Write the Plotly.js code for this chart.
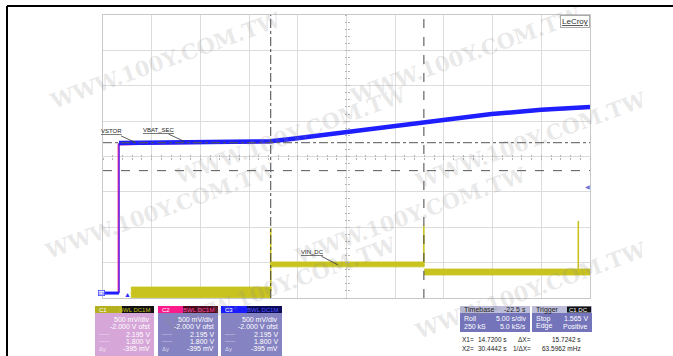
<!DOCTYPE html>
<html><head><meta charset="utf-8">
<script src="https://cdn.plot.ly/plotly-3.0.1.min.js"></script>
<style>html,body{margin:0;padding:0;background:#fff;} #chart{width:673px;height:356px;}</style>
</head><body><div id="chart"></div>
<script>
// ---------- data (seconds, volts) ----------
const xRange = [-2.5, 47.5];
const yRange = [0, 4];
const cursorX = [14.72, 30.4442];
const cursorY = [2.195, 1.800];
const triggerT = 0;
const triggerLevel = 1.565;

// C3 (blue) - VSTOR / VBAT_SEC
const c3LowT = [-2.5, -0.85];
const c3LowV = [0.07, 0.07];
const c3EdgeT = [-0.85, -0.85];
const c3EdgeV = [0.07, 2.19];
const c3T = [-0.85, 3, 8, 14.72, 17, 21, 25, 30.44, 34, 37.4, 42.5, 47.5];
const c3V = [2.19, 2.20, 2.205, 2.215, 2.25, 2.32, 2.39, 2.49, 2.55, 2.60, 2.66, 2.70];
// C2 (pink) underneath
const c2T = [-0.9, -0.9, 3, 8, 14.72, 17, 21, 25, 30.44, 34, 37.4, 42.5, 47.5];
const c2V = [0.07, 2.17, 2.185, 2.19, 2.20, 2.24, 2.31, 2.38, 2.48, 2.54, 2.59, 2.65, 2.69];
// C1 (yellow) - VIN_DC, noisy band envelopes per segment
const c1SegStart = [0.4, 14.8, 30.5];
const c1SegEnd = [14.72, 30.44, 47.5];
const c1Hi = [0.155, 0.51, 0.41];
const c1Lo = [0.005, 0.44, 0.325];
const c1SpikeT = [14.72, 30.44, 46.3];
const c1SpikeTop = [0.99, 1.02, 1.09];
const c1SpikeBase = [0.10, 0.44, 0.33];

const traceLabels = ['VSTOR', 'VBAT_SEC', 'VIN_DC'];
const labelT = [0.8, 5.9, 21.6];
const labelV = [2.20, 2.21, 0.47];

const chTitles = ['C1', 'C2', 'C3'];
const chRows = ['500 mV/div', '-2.000 V ofst', '2.195 V', '1.800 V', '-395 mV'];
const chLeft = ['', '', '\u2012\u2012\u2012', '\u2012\u2012\u2012', '\u0394y'];
const tbHeader = ['Timebase', '-22.5 s'];
const tbRows = [['Roll', '5.00 s/div'], ['250 kS', '5.0 kS/s']];
const trHeader = ['Trigger', 'C1 DC'];
const trRows = [['Stop', '1.565 V'], ['Edge', 'Positive']];
const cursorText = [['X1=', '14.7200 s', '\u0394X=', '15.7242 s'], ['X2=', '30.4442 s', '1/\u0394X=', '63.5962 mHz']];
const watermark = 'WWW.100Y.COM.TW';

// ---------- layout helpers (pixel -> paper) ----------
const PX = x => (x - 103) / 487;
const PY = y => (298 - y) / 283;
const YEL = '#c8c31e', BLUE = '#1e1eff', PINK = '#ff2a8a';
const FONT = 'Liberation Sans, Arial, sans-serif';

const traces = [];
for (let i = 0; i < c1SegStart.length; i++) {
  traces.push({x: [c1SegStart[i], c1SegEnd[i], c1SegEnd[i], c1SegStart[i], c1SegStart[i]],
    y: [c1Lo[i], c1Lo[i], c1Hi[i], c1Hi[i], c1Lo[i]], mode: 'lines', fill: 'toself',
    fillcolor: YEL, line: {color: YEL, width: 0.8}, hoverinfo: 'skip'});
}
for (let i = 0; i < c1SpikeT.length; i++) {
  traces.push({x: [c1SpikeT[i], c1SpikeT[i]], y: [c1SpikeBase[i], c1SpikeTop[i]], mode: 'lines',
    line: {color: YEL, width: 1.6}, hoverinfo: 'skip'});
}
traces.push({x: c2T, y: c2V, mode: 'lines', line: {color: PINK, width: 2}, hoverinfo: 'skip'});
traces.push({x: c3LowT, y: c3LowV, mode: 'lines', line: {color: BLUE, width: 3}, hoverinfo: 'skip'});
traces.push({x: c3EdgeT, y: c3EdgeV, mode: 'lines', line: {color: '#3030ff', width: 1.2}, hoverinfo: 'skip'});
traces.push({x: c3T, y: c3V, mode: 'lines', line: {color: BLUE, width: 4.5}, hoverinfo: 'skip'});
traces.push({x: [null], y: [null], xaxis: 'x2', yaxis: 'y2', hoverinfo: 'skip'});
traces.push({x: [null], y: [null], xaxis: 'x3', yaxis: 'y3', hoverinfo: 'skip'});

const shapes = [];
const annotations = [];
const rect = (x0, y0, x1, y1, fill) => shapes.push({type: 'rect', xref: 'paper', yref: 'paper',
  x0: PX(x0), x1: PX(x1), y0: PY(y0), y1: PY(y1), fillcolor: fill, line: {width: 0}, layer: 'above'});
const txt = (x, y, t, anchor, color, size) => annotations.push({xref: 'paper', yref: 'paper',
  x: PX(x), y: PY(y), text: t, showarrow: false, xanchor: anchor, yanchor: 'middle',
  font: {family: FONT, size: size || 7, color: color || '#fff'}});

// watermarks (kept inside the picture)
const wmPos = [[165, 60], [465, 55], [290, 135], [530, 140], [160, 210], [410, 215], [280, 285], [530, 290]];
wmPos.forEach(p => annotations.push({xref: 'paper', yref: 'paper', x: PX(p[0]), y: PY(p[1]),
  xanchor: 'center', yanchor: 'middle', text: watermark,
  showarrow: false, textangle: -20, font: {family: 'DejaVu Serif, serif', size: 21, color: 'rgba(140,140,140,0.2)', weight: 'bold'}}));

// frame
shapes.push({type: 'line', xref: 'paper', yref: 'paper', x0: PX(7), x1: PX(673), y0: PY(6), y1: PY(6), line: {color: '#000', width: 2}});
shapes.push({type: 'line', xref: 'paper', yref: 'paper', x0: PX(7), x1: PX(7), y0: PY(6), y1: PY(360), line: {color: '#000', width: 2}});

// cursors
shapes.push({type: 'line', xref: 'x', yref: 'paper', x0: cursorX[0], x1: cursorX[0], y0: 0, y1: 1, line: {color: '#444', width: 1, dash: 'dashdot'}});
shapes.push({type: 'line', xref: 'x', yref: 'paper', x0: cursorX[1], x1: cursorX[1], y0: 0, y1: 1, line: {color: '#444', width: 1, dash: 'dash'}});
shapes.push({type: 'line', xref: 'paper', yref: 'y', x0: 0, x1: 1, y0: cursorY[0], y1: cursorY[0], line: {color: '#555', width: 1, dash: 'dashdot'}});
shapes.push({type: 'line', xref: 'paper', yref: 'y', x0: 0, x1: 1, y0: cursorY[1], y1: cursorY[1], line: {color: '#555', width: 1, dash: 'dash'}});

// trace labels
const axs = [-24, -26, -25], ays = [-11, -12, -13];
for (let i = 0; i < traceLabels.length; i++) {
  annotations.push({x: labelT[i], y: labelV[i], xref: 'x', yref: 'y', text: '<u>' + traceLabels[i] + '</u>',
    showarrow: true, arrowhead: 0, arrowwidth: 0.8, arrowcolor: '#333', ax: axs[i], ay: ays[i],
    font: {family: FONT, size: 6, color: '#222'}});
}

// LeCroy
annotations.push({xref: 'paper', yref: 'paper', x: 1, y: 1, xanchor: 'right', yanchor: 'top', text: '<u>LeCroy</u>',
  showarrow: false, font: {family: FONT, size: 8, color: '#333'}, bordercolor: '#aaa', borderwidth: 1, borderpad: 1, bgcolor: '#fff'});

// trigger markers
annotations.push({x: triggerT, xref: 'x', yref: 'paper', y: PY(301), text: '\u25B2', showarrow: false,
  font: {size: 7, color: '#2a2aff'}});
annotations.push({x: PX(592), xref: 'paper', yref: 'y', y: triggerLevel, text: '\u25C0', showarrow: false,
  font: {size: 6, color: '#7070d8'}});
annotations.push({x: PX(98), xref: 'paper', yref: 'y', y: c3LowV[0], text: 'C3', showarrow: false,
  font: {family: FONT, size: 4, color: '#1e1eff'}, bordercolor: '#1e1eff', borderwidth: 0.6, borderpad: 0, bgcolor: '#e6e6ff'});

// channel boxes
const boxX = [[95, 122, 154], [158, 183, 218], [221, 247, 282]];
const hdrL = ['#b5b020', '#ff1a8c', '#1a1aff'];
const hdrR = ['#111111', '#4a0a1e', '#0c0c5a'];
const hdrT = [YEL, '#ff4aa0', '#5050ff'];
const body = ['#d6a6d8', '#8683c2', '#8683c2'];
const rowY = [319.5, 326.8, 334, 341.3, 348.6];
for (let c = 0; c < 3; c++) {
  const [a, m, b] = boxX[c];
  rect(a, 306, m, 313, hdrL[c]);
  rect(m, 306, b, 313, hdrR[c]);
  rect(a, 313, b, 360, body[c]);
  txt(a + 2, 309.5, chTitles[c], 'left', '#fff', 6);
  txt(b - 2, 309.5, 'BWL DC1M', 'right', hdrT[c], 6);
  for (let r = 0; r < chRows.length; r++) {
    txt(b - 2, rowY[r], chRows[r], 'right', '#fff', 7);
    if (chLeft[r]) txt(a + 2, rowY[r], chLeft[r], 'left', 'rgba(255,255,255,0.7)', 6);
  }
}
// timebase / trigger
rect(460, 306, 530, 313, '#bdbdd9');
rect(460, 313, 530, 332, '#7474ba');
txt(462, 309.5, tbHeader[0], 'left', '#222', 7);
txt(528, 309.5, tbHeader[1], 'right', '#222', 7);
tbRows.forEach((r, k) => { txt(462, 318.7 + 7.3 * k, r[0], 'left', '#fff', 7); txt(528, 318.7 + 7.3 * k, r[1], 'right', '#fff', 7); });
rect(532, 306, 592, 313, '#bdbdd9');
rect(567, 306.5, 591, 312.5, '#111');
rect(532, 313, 592, 332, '#7474ba');
txt(534, 309.5, trHeader[0], 'left', '#222', 7);
txt(590, 309.5, trHeader[1], 'right', '#fff', 6);
trRows.forEach((r, k) => { txt(534, 318.7 + 7.3 * k, r[0], 'left', '#fff', 7); txt(590, 318.7 + 7.3 * k, r[1], 'right', '#fff', 7); });
// cursor readouts
const crX = [[460, 'left'], [509, 'right'], [533, 'right'], [583, 'right']];
cursorText.forEach((row, k) => row.forEach((t, i) => txt(crX[i][0], 339 + 9.5 * k, t, crX[i][1], '#222', 6.5)));

const axBase = {showticklabels: false, zeroline: false, fixedrange: true};
const layout = {
  width: 673, height: 356,
  margin: {l: 103, r: 83, t: 15, b: 58, pad: 0},
  paper_bgcolor: '#fff', plot_bgcolor: '#fff',
  showlegend: false,
  xaxis: Object.assign({range: xRange, tick0: -2.5, dtick: 5, showgrid: true, gridcolor: '#dcdcdc', gridwidth: 1,
    showline: true, mirror: true, linecolor: '#c8c8c8', linewidth: 1, ticks: ''}, axBase),
  yaxis: Object.assign({range: yRange, tick0: 0, dtick: 0.5, showgrid: true, gridcolor: '#dcdcdc', gridwidth: 1,
    showline: true, mirror: true, linecolor: '#c8c8c8', linewidth: 1, ticks: ''}, axBase),
  xaxis2: Object.assign({range: xRange, overlaying: 'x', anchor: 'free', position: 0.5, tick0: -2.5, dtick: 1,
    ticks: 'outside', ticklen: 2, tickcolor: '#b4b4b4', showgrid: false, showline: false}, axBase),
  yaxis2: Object.assign({range: yRange, overlaying: 'y', anchor: 'free', position: 0.5, tick0: 0, dtick: 0.1,
    ticks: 'outside', ticklen: 2, tickcolor: '#b4b4b4', showgrid: false, showline: false}, axBase),
  xaxis3: Object.assign({range: xRange, overlaying: 'x', anchor: 'free', position: 0.5, tick0: -2.5, dtick: 1,
    ticks: 'inside', ticklen: 2, tickcolor: '#b4b4b4', showgrid: false, showline: false}, axBase),
  yaxis3: Object.assign({range: yRange, overlaying: 'y', anchor: 'free', position: 0.5, tick0: 0, dtick: 0.1,
    ticks: 'inside', ticklen: 2, tickcolor: '#b4b4b4', showgrid: false, showline: false}, axBase),
  shapes: shapes,
  annotations: annotations
};
Plotly.newPlot('chart', traces, layout, {staticPlot: true, displayModeBar: false});
</script>
</body></html>
